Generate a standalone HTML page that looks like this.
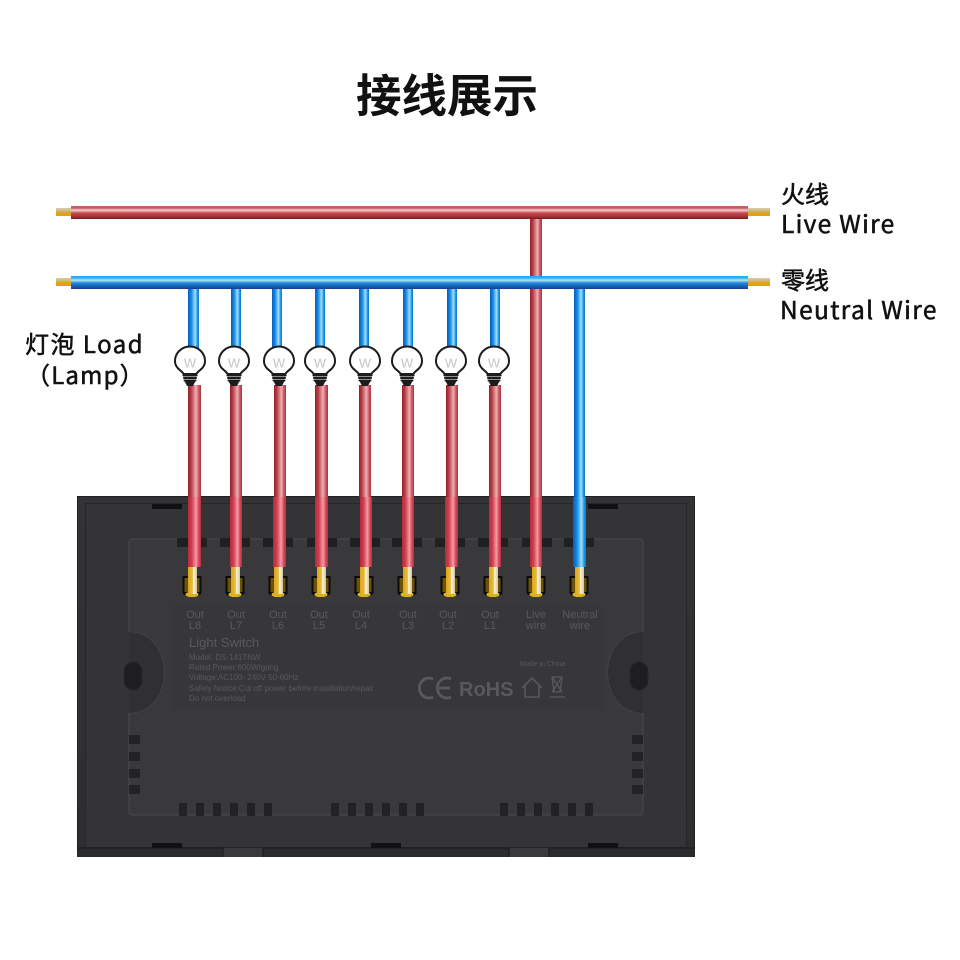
<!DOCTYPE html>
<html><head><meta charset="utf-8"><style>
html,body{margin:0;padding:0;background:#fff}
svg{display:block}
.c{font-family:"Noto Sans CJK SC","Liberation Sans",sans-serif;fill:#111}
.m{stroke:#111;stroke-width:.55px}
.p{font-family:"Liberation Sans",sans-serif;fill:#59595b}
</style></head><body>
<svg xmlns="http://www.w3.org/2000/svg" width="960" height="960" viewBox="0 0 960 960">
<defs>
<linearGradient id="rh" x1="0" y1="0" x2="0" y2="1"><stop offset="0" stop-color="#d0636b"/><stop offset=".15" stop-color="#c9565e"/><stop offset=".32" stop-color="#f3cdd0"/><stop offset=".55" stop-color="#c4484f"/><stop offset=".8" stop-color="#a8323a"/><stop offset="1" stop-color="#771a20"/></linearGradient>
<linearGradient id="bh" x1="0" y1="0" x2="0" y2="1"><stop offset="0" stop-color="#1eaaf6"/><stop offset=".15" stop-color="#2cb0f5"/><stop offset=".32" stop-color="#b5e2f8"/><stop offset=".55" stop-color="#1c86d8"/><stop offset=".8" stop-color="#1460b4"/><stop offset="1" stop-color="#1c3890"/></linearGradient>
<linearGradient id="rv" x1="0" y1="0" x2="1" y2="0"><stop offset="0" stop-color="#8e2228"/><stop offset=".25" stop-color="#bb3f48"/><stop offset=".62" stop-color="#eeb0b6"/><stop offset=".8" stop-color="#d0606a"/><stop offset="1" stop-color="#a8323c"/></linearGradient>
<linearGradient id="rp" x1="0" y1="0" x2="1" y2="0"><stop offset="0" stop-color="#b52a3a"/><stop offset=".3" stop-color="#cf4050"/><stop offset=".62" stop-color="#f59aa8"/><stop offset=".82" stop-color="#d84a5c"/><stop offset="1" stop-color="#b82c3e"/></linearGradient>
<linearGradient id="bv" x1="0" y1="0" x2="1" y2="0"><stop offset="0" stop-color="#0a5cba"/><stop offset=".3" stop-color="#0f8ae4"/><stop offset=".65" stop-color="#a6dcf8"/><stop offset=".85" stop-color="#1b9ae8"/><stop offset="1" stop-color="#0f74cc"/></linearGradient>
<linearGradient id="tip" x1="0" y1="0" x2="0" y2="1"><stop offset="0" stop-color="#d9cfa8"/><stop offset=".5" stop-color="#c6ad70"/><stop offset=".55" stop-color="#e0a418"/><stop offset="1" stop-color="#e0a010"/></linearGradient>
<linearGradient id="tipv" x1="0" y1="0" x2="1" y2="0"><stop offset="0" stop-color="#dca418"/><stop offset=".5" stop-color="#e8bc40"/><stop offset=".62" stop-color="#fbf6e0"/><stop offset="1" stop-color="#cfc49a"/></linearGradient>
<linearGradient id="frame" x1="0" y1="0" x2="0" y2="1"><stop offset="0" stop-color="#333335"/><stop offset="1" stop-color="#2e2e30"/></linearGradient>
<g id="bulb">
<path d="M-6.500 12 C-7 9 -15 7 -15 -1 A15 14.500 0 1 1 15 -1 C15 7 7 9 6.500 12 Z" fill="#fff" stroke="#1c1c1c" stroke-width="2"/>
<text x="0" y="5.500" text-anchor="middle" font-family="Liberation Sans,sans-serif" font-size="13" fill="#c4c4c4">W</text>
<rect x="-7.500" y="12" width="15" height="2.500" rx="1" fill="#1c1c1c"/>
<rect x="-7" y="15" width="14" height="2" rx="1" fill="#1c1c1c"/>
<rect x="-6.500" y="17.500" width="13" height="2" rx="1" fill="#1c1c1c"/>
<path d="M-5.500 19 H5.500 L3 24 H-3 Z" fill="#1c1c1c"/>
</g>
<g id="term">
<path d="M-9.500 0 H9.500 V17 Q9.500 19 0 22 Q-9.500 19 -9.500 17 Z" fill="#0e0c06"/>
<path d="M-7.500 2 H-4 V16 H-7.500 Z M4.500 2 H7.500 V16 H4.500 Z" fill="#6a5208"/>
<ellipse cx="0" cy="18.500" rx="6.500" ry="2.800" fill="#d8b418"/>
<rect x="-4" y="-9" width="9" height="27" fill="url(#tipv)"/>
</g>
<rect id="vent" width="8" height="13" fill="#222224"/>
<rect id="side" width="11" height="9" fill="#232325"/>
<rect id="notch" width="30" height="9" fill="#202022"/>
</defs>

<rect width="960" height="960" fill="#fff"/>

<!-- panel -->
<rect x="77" y="496" width="618" height="361" fill="url(#frame)"/>
<rect x="77.500" y="496.500" width="617" height="360" fill="none" stroke="#222224" stroke-width="1"/>
<rect x="85.500" y="503.500" width="601" height="344" fill="#343436" stroke="#262628" stroke-width="1"/>
<rect x="77" y="848" width="618" height="9" fill="#2b2b2d"/>
<rect x="223" y="848" width="40" height="9" fill="#39393b"/>
<rect x="509" y="848" width="40" height="9" fill="#39393b"/>
<path d="M223 848V857M263 848V857M509 848V857M549 848V857M77 848H223M263 848H509M549 848H695" stroke="#19191b" fill="none"/>
<rect x="152" y="504" width="30" height="5" fill="#111113"/><rect x="588" y="504" width="30" height="5" fill="#111113"/>
<rect x="152" y="843" width="30" height="5" fill="#111113"/><rect x="371" y="843" width="30" height="5" fill="#111113"/><rect x="588" y="843" width="30" height="5" fill="#111113"/>

<!-- plate -->
<path d="M133 539 H639 Q643 539 643 543 V632 C622 632 608 650 608 672 C608 696 622 713 643 713 V811 Q643 815 639 815 H133 Q129 815 129 811 V713 C150 713 164 696 164 672 C164 650 150 632 129 632 V543 Q129 539 133 539 Z" fill="#39393b" stroke="#4a4a4c" stroke-width="1"/>
<path d="M129 632 C150 632 164 650 164 672 C164 696 150 713 129 713 Z" fill="#303032"/>
<path d="M643 632 C622 632 608 650 608 672 C608 696 622 713 643 713 Z" fill="#303032"/>
<rect x="171" y="606" width="432" height="104" fill="#373739"/>
<rect x="124" y="662" width="18" height="28" rx="9" fill="#1e1e20" stroke="#28282a" stroke-width="1"/>
<rect x="630" y="662" width="18" height="28" rx="9" fill="#1e1e20" stroke="#28282a" stroke-width="1"/>
<g>
<use href="#notch" x="177" y="538"/><use href="#notch" x="220" y="538"/><use href="#notch" x="263" y="538"/><use href="#notch" x="307" y="538"/><use href="#notch" x="350" y="538"/><use href="#notch" x="392" y="538"/><use href="#notch" x="435" y="538"/><use href="#notch" x="478" y="538"/><use href="#notch" x="522" y="538"/><use href="#notch" x="564" y="538"/>
</g>
<g>
<use href="#vent" x="179" y="803"/><use href="#vent" x="196" y="803"/><use href="#vent" x="213" y="803"/><use href="#vent" x="230" y="803"/><use href="#vent" x="247" y="803"/><use href="#vent" x="264" y="803"/>
<use href="#vent" x="331" y="803"/><use href="#vent" x="348" y="803"/><use href="#vent" x="365" y="803"/><use href="#vent" x="382" y="803"/><use href="#vent" x="399" y="803"/><use href="#vent" x="416" y="803"/>
<use href="#vent" x="500" y="803"/><use href="#vent" x="517" y="803"/><use href="#vent" x="534" y="803"/><use href="#vent" x="551" y="803"/><use href="#vent" x="568" y="803"/><use href="#vent" x="585" y="803"/>
<use href="#side" x="129" y="735"/><use href="#side" x="129" y="752"/><use href="#side" x="129" y="769"/><use href="#side" x="129" y="785"/>
<use href="#side" x="632" y="735"/><use href="#side" x="632" y="752"/><use href="#side" x="632" y="769"/><use href="#side" x="632" y="785"/>
</g>

<!-- panel text -->
<g class="p" font-size="11" text-anchor="middle">
<text x="195" y="618">Out</text><text x="195" y="629">L8</text>
<text x="236" y="618">Out</text><text x="236" y="629">L7</text>
<text x="278" y="618">Out</text><text x="278" y="629">L6</text>
<text x="319" y="618">Out</text><text x="319" y="629">L5</text>
<text x="361" y="618">Out</text><text x="361" y="629">L4</text>
<text x="408" y="618">Out</text><text x="408" y="629">L3</text>
<text x="448" y="618">Out</text><text x="448" y="629">L2</text>
<text x="490" y="618">Out</text><text x="490" y="629">L1</text>
<text x="536" y="618">Live</text><text x="536" y="629">wire</text>
<text x="580" y="618">Neutral</text><text x="580" y="629">wire</text>
</g>
<text class="p" x="189" y="647" font-size="13">Light Switch</text>
<g class="p" font-size="8">
<text x="189" y="660">Model: DS-141TNW</text>
<text x="189" y="670">Rated Power:600W/gang</text>
<text x="189" y="680">Voltage:AC100- 240V 50-60Hz</text>
<text x="189" y="691">Safety Notice:Cut off power before installation/repair</text>
<text x="189" y="701">Do not overload</text>
<text x="520" y="666" font-size="7">Made in China</text>
</g>
<g fill="none" stroke="#59595b" stroke-width="2.800">
<path d="M433 679 A9.500 10 0 1 0 433 697"/>
<path d="M451 679 A9.500 10 0 1 0 451 697 M439 688 H450"/>
</g>
<text class="p" x="459" y="696" font-size="20" font-weight="700">RoHS</text>
<path d="M522 688 L532 678 L542 688 M525 686 V697 H539 V686" fill="none" stroke="#59595b" stroke-width="1.600"/>
<path d="M552 677 H562 L560 692 H554 Z M552 677 L562 692 M562 677 L552 692 M550 697 H565" fill="none" stroke="#59595b" stroke-width="1.300"/>

<!-- horizontal tips -->
<rect x="56" y="208" width="15" height="8" fill="url(#tip)"/>
<rect x="748" y="208" width="22" height="8" fill="url(#tip)"/>
<rect x="56" y="278" width="15" height="8" fill="url(#tip)"/>
<rect x="748" y="278" width="22" height="8" fill="url(#tip)"/>

<!-- upper blue -->
<rect x="188" y="289" width="11" height="60" fill="url(#bv)"/>
<rect x="231" y="289" width="10" height="60" fill="url(#bv)"/>
<rect x="272" y="289" width="10" height="60" fill="url(#bv)"/>
<rect x="315" y="289" width="10" height="60" fill="url(#bv)"/>
<rect x="359" y="289" width="10" height="60" fill="url(#bv)"/>
<rect x="403" y="289" width="10" height="60" fill="url(#bv)"/>
<rect x="447" y="289" width="10" height="60" fill="url(#bv)"/>
<rect x="490" y="289" width="10" height="60" fill="url(#bv)"/>

<!-- lower reds (upper zone over white) -->
<rect x="188" y="385" width="13" height="112" fill="url(#rv)"/>
<rect x="230" y="385" width="12" height="112" fill="url(#rv)"/>
<rect x="274" y="385" width="12" height="112" fill="url(#rv)"/>
<rect x="315" y="385" width="13" height="112" fill="url(#rv)"/>
<rect x="359" y="385" width="12" height="112" fill="url(#rv)"/>
<rect x="402" y="385" width="12" height="112" fill="url(#rv)"/>
<rect x="446" y="385" width="12" height="112" fill="url(#rv)"/>
<rect x="489" y="385" width="12" height="112" fill="url(#rv)"/>
<rect x="530" y="219" width="12" height="278" fill="url(#rv)"/>
<rect x="574" y="289" width="11" height="208" fill="url(#bv)"/>

<!-- terminals -->
<use href="#term" x="192" y="576"/><use href="#term" x="235" y="576"/><use href="#term" x="278" y="576"/><use href="#term" x="321" y="576"/><use href="#term" x="364" y="576"/><use href="#term" x="407" y="576"/><use href="#term" x="450" y="576"/><use href="#term" x="493" y="576"/><use href="#term" x="536" y="576"/><use href="#term" x="579" y="576"/>

<!-- reds over panel -->
<rect x="188" y="497" width="13" height="70" fill="url(#rp)"/>
<rect x="230" y="497" width="12" height="70" fill="url(#rp)"/>
<rect x="273" y="497" width="13" height="70" fill="url(#rp)"/>
<rect x="315" y="497" width="13" height="70" fill="url(#rp)"/>
<rect x="360" y="497" width="12" height="70" fill="url(#rp)"/>
<rect x="402" y="497" width="12" height="70" fill="url(#rp)"/>
<rect x="445" y="497" width="13" height="70" fill="url(#rp)"/>
<rect x="489" y="497" width="12" height="70" fill="url(#rp)"/>
<rect x="530" y="497" width="12" height="70" fill="url(#rp)"/>
<rect x="573" y="497" width="13" height="70" fill="url(#bv)"/>

<!-- horizontal wires -->
<rect x="71" y="206" width="677" height="13" fill="url(#rh)"/>
<rect x="71" y="276" width="677" height="13" fill="url(#bh)"/>

<!-- bulbs -->
<use href="#bulb" x="190" y="362"/><use href="#bulb" x="234" y="362"/><use href="#bulb" x="279" y="362"/><use href="#bulb" x="320" y="362"/><use href="#bulb" x="365" y="362"/><use href="#bulb" x="407" y="362"/><use href="#bulb" x="451" y="362"/><use href="#bulb" x="494" y="362"/>

<!-- labels -->
<text class="c" x="447" y="112" text-anchor="middle" font-size="45.500" style="font-weight:700">接线展示</text>
<text class="c m" x="781" y="203" font-size="24">火线</text>
<text class="c m" x="781" y="233" font-size="24.500" letter-spacing="1.300">Live Wire</text>
<text class="c m" x="781" y="289" font-size="24">零线</text>
<text class="c m" x="780" y="319" font-size="24.500" letter-spacing="1.350">Neutral Wire</text>
<text class="c m" x="25" y="353" font-size="24" letter-spacing="1.500">灯泡 Load</text>
<text class="c m" x="26" y="384" font-size="24" letter-spacing="1.200">（Lamp）</text>
</svg>
</body></html>
